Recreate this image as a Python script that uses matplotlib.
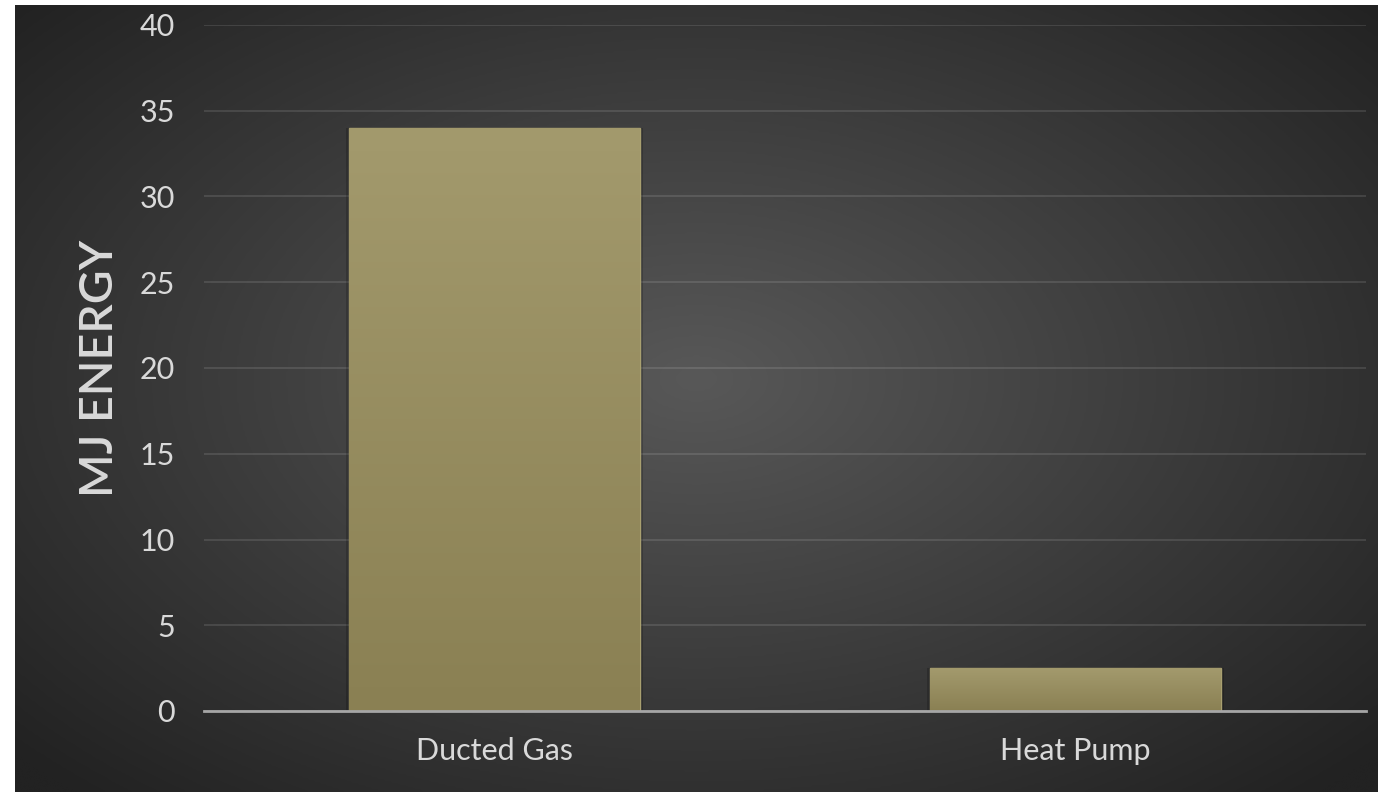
import numpy as np
import matplotlib.pyplot as plt
from matplotlib.colors import LinearSegmentedColormap

categories = ["Ducted Gas", "Heat Pump"]
energy_mj = [34.0, 2.5]
y_ticks = [0, 5, 10, 15, 20, 25, 30, 35, 40]

plt.rcParams['font.family'] = ['Lato', 'DejaVu Sans']

fig = plt.figure(figsize=(13.78, 7.92), dpi=100, facecolor='white')

# dark panel with a soft radial glow in the middle
bg = fig.add_axes([15 / 1378, 0, 1 - 15 / 1378, 787 / 792])
bg.set_axis_off()
yy, xx = np.mgrid[-1:1:400j, -1:1:700j]
r = np.sqrt(xx ** 2 + ((yy + 0.05) * 0.95) ** 2)
r = np.clip(r / 1.35, 0, 1)
glow = LinearSegmentedColormap.from_list('glow', ['#585858', '#3d3d3d', '#222222'])
bg.imshow(r, cmap=glow, aspect='auto', extent=[0, 1, 0, 1], interpolation='bicubic')
bg.set_xlim(0, 1)
bg.set_ylim(0, 1)

ax = fig.add_axes([204 / 1378, 1 - 711 / 792, (1366 - 204) / 1378, (711 - 25) / 792])
ax.patch.set_alpha(0)

x = np.arange(len(categories))
bars = ax.bar(x, energy_mj, width=0.5, color='#978d61', edgecolor='#a9a070',
              linewidth=1, zorder=3)

# vertical gradient on each bar
bar_cmap = LinearSegmentedColormap.from_list('bar', ['#a39a6d', '#8a8053'])
grad = np.linspace(0, 1, 256).reshape(-1, 1)
for b in bars:
    x0, w, h = b.get_x(), b.get_width(), b.get_height()
    # faint drop shadow
    ax.bar(x0 + w / 2, h, width=w + 0.012, color='black', alpha=0.18, zorder=2)
    im = ax.imshow(grad, cmap=bar_cmap, aspect='auto', extent=[x0, x0 + w, 0, h],
                   zorder=3.5, interpolation='bicubic')
    im.set_clip_path(b)

ax.set_xlim(-0.5, 1.5)
ax.set_ylim(0, 40)
ax.set_yticks(y_ticks)
ax.set_xticks(x)
ax.set_xticklabels(categories)

ax.grid(axis='y', color='white', alpha=0.13, linewidth=1.2, zorder=1)
ax.set_axisbelow(True)
for s in ['top', 'right', 'left']:
    ax.spines[s].set_visible(False)
ax.spines['bottom'].set_color('#a6a6a6')
ax.spines['bottom'].set_linewidth(2)
ax.spines['bottom'].set_zorder(4)

ax.tick_params(axis='both', length=0, labelsize=22, labelcolor='#d9d9d9')
ax.tick_params(axis='y', pad=21)
ax.tick_params(axis='x', pad=19)

ax.set_ylabel('MJ ENERGY', fontsize=33.5, color='#d9d9d9', fontweight='semibold', labelpad=13)

fig.savefig('out.png', dpi=100, facecolor=fig.get_facecolor())
